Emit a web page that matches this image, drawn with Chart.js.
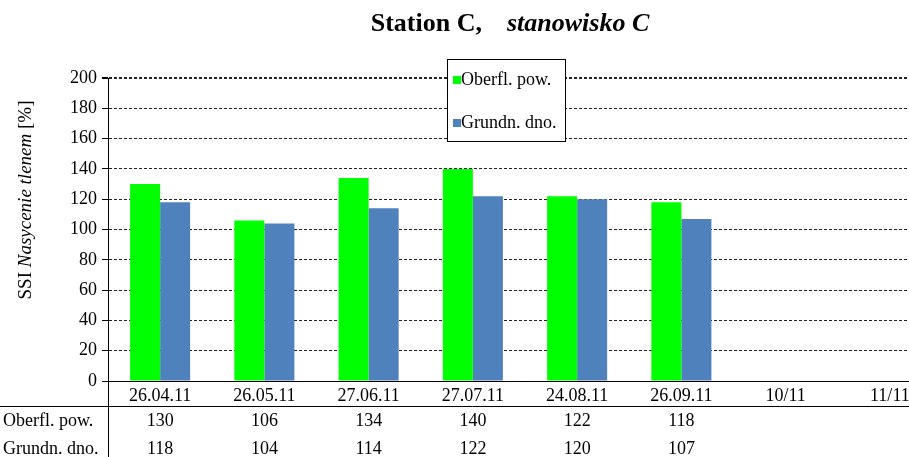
<!DOCTYPE html>
<html>
<head>
<meta charset="utf-8">
<script src="https://cdn.jsdelivr.net/npm/chart.js@4/dist/chart.umd.min.js"></script>
<style>
html,body{margin:0;padding:0;background:#fff;overflow:hidden;}
#wrap{width:945px;height:457px;}
</style>
</head>
<body>
<div id="wrap"><canvas id="c" width="945" height="457"></canvas></div>
<script>
const categories = ['26.04.11','26.05.11','27.06.11','27.07.11','24.08.11','26.09.11','10/11','11/11'];
const surfaceLabel = 'Oberfl. pow.';
const bottomLabel = 'Grundn. dno.';
const surfaceValues = [130, 106, 134, 140, 122, 118, null, null];
const bottomValues = [118, 104, 114, 122, 120, 107, null, null];
const yTicks = [0, 20, 40, 60, 80, 100, 120, 140, 160, 180, 200];
const titleMain = 'Station C,';
const titleItalic = 'stanowisko C';

const SERIF = "'Liberation Serif','Times New Roman',serif";
const GREEN = '#00FF00';
const BLUE = '#4F81BD';

const decor = {
  id: 'decor',
  afterDraw(chart) {
    const ctx = chart.ctx;
    const ca = chart.chartArea;
    const xs = chart.scales.x;
    ctx.save();
    // Title
    ctx.fillStyle = '#000';
    ctx.textBaseline = 'middle';
    ctx.font = "bold 26px " + SERIF;
    const w1 = ctx.measureText(titleMain).width;
    ctx.font = "italic bold 26px " + SERIF;
    const w2 = ctx.measureText(titleItalic).width;
    const gap = 25;
    const total = w1 + gap + w2;
    const tx = 510 - total / 2;
    ctx.textAlign = 'left';
    ctx.font = "bold 26px " + SERIF;
    ctx.fillText(titleMain, tx, 24);
    ctx.font = "italic bold 26px " + SERIF;
    ctx.fillText(titleItalic, tx + w1 + gap, 24);

    // Y axis title (mixed fonts)
    ctx.save();
    ctx.translate(26, 200);
    ctx.rotate(-Math.PI / 2);
    const parts = [['SSI ', '19px '], ['Nasycenie tlenem', 'italic 19px '], [' [%]', '19px ']];
    let tw = 0;
    parts.forEach(p => { ctx.font = p[1] + SERIF; tw += ctx.measureText(p[0]).width; });
    let px = -tw / 2;
    parts.forEach(p => { ctx.font = p[1] + SERIF; ctx.fillText(p[0], px, 0); px += ctx.measureText(p[0]).width; });
    ctx.restore();

    // Extra axis line through the data table
    ctx.strokeStyle = '#000';
    ctx.lineWidth = 1;
    ctx.setLineDash([]);
    ctx.beginPath();
    ctx.moveTo(Math.round(ca.left) + 0.5, ca.bottom);
    ctx.lineTo(Math.round(ca.left) + 0.5, 457);
    ctx.stroke();
    // Table separator line
    ctx.beginPath();
    ctx.moveTo(0, 406.5);
    ctx.lineTo(chart.width, 406.5);
    ctx.stroke();

    // Data table rows
    ctx.font = "18px " + SERIF;
    ctx.textBaseline = 'middle';
    const rows = [[surfaceLabel, surfaceValues, 421], [bottomLabel, bottomValues, 449]];
    rows.forEach(r => {
      ctx.textAlign = 'left';
      ctx.fillText(r[0], 3, r[2]);
      ctx.textAlign = 'center';
      r[1].forEach((v, i) => {
        if (v === null) return;
        ctx.fillText(String(v), xs.getPixelForValue(i), r[2]);
      });
    });

    // Legend box
    const lx = 447, ly = 59, lw = 118, lh = 82;
    ctx.fillStyle = '#fff';
    ctx.fillRect(lx, ly, lw, lh);
    ctx.strokeStyle = '#000';
    ctx.strokeRect(lx + 0.5, ly + 0.5, lw, lh);
    const items = chart.data.datasets.map((d, i) => [d.label, d.backgroundColor, [80, 123][i]]);
    ctx.font = "18px " + SERIF;
    ctx.textAlign = 'left';
    items.forEach(it => {
      ctx.fillStyle = it[1];
      ctx.fillRect(453, it[2] - 4, 8, 8);
      ctx.fillStyle = '#000';
      ctx.fillText(it[0], 461, it[2]);
    });
    ctx.restore();
  }
};

new Chart(document.getElementById('c'), {
  type: 'bar',
  data: {
    labels: categories,
    datasets: [
      { label: surfaceLabel, data: surfaceValues, backgroundColor: GREEN, borderWidth: 0 },
      { label: bottomLabel, data: bottomValues, backgroundColor: BLUE, borderWidth: 0 }
    ]
  },
  options: {
    responsive: false,
    animation: false,
    devicePixelRatio: 1,
    layout: { padding: { left: 0, top: 78, right: 3, bottom: 0 } },
    datasets: { bar: { categoryPercentage: 0.576, barPercentage: 1.0 } },
    plugins: { legend: { display: false }, title: { display: false }, tooltip: { enabled: false } },
    scales: {
      x: {
        grid: { display: true, drawOnChartArea: false, drawTicks: false },
        border: { display: true, color: '#000', width: 1 },
        ticks: { color: '#000', font: { family: SERIF, size: 18 }, padding: 4, maxRotation: 0, autoSkip: false },
        afterFit(scale) { scale.height = 76; }
      },
      y: {
        min: 0, max: 200,
        afterBuildTicks(scale) { scale.ticks = yTicks.map(v => ({ value: v })); },
        grid: {
          color: '#222',
          lineWidth: (c) => (c.tick && c.tick.value === 200 ? 2 : 1),
          tickColor: '#000', tickLength: 6, tickBorderDash: [], drawTicks: true
        },
        border: { display: true, color: '#000', width: 1, dash: [3, 2] },
        ticks: { color: '#000', font: { family: SERIF, size: 18 }, padding: 5 },
        afterFit(scale) { scale.width = 108; }
      }
    }
  },
  plugins: [decor]
});
</script>
</body>
</html>
